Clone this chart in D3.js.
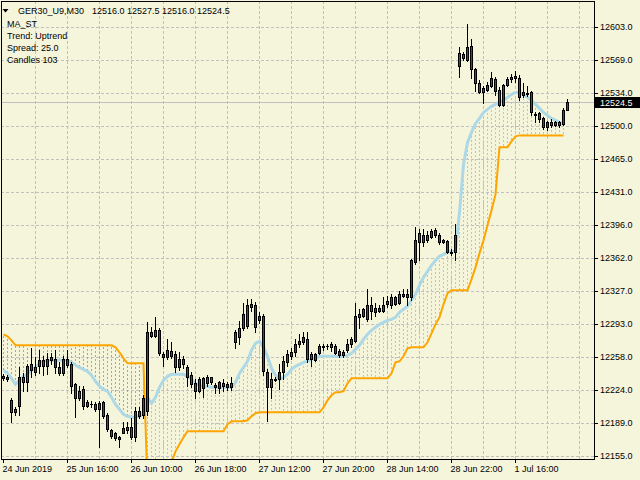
<!DOCTYPE html>
<html><head><meta charset="utf-8">
<script src="https://cdn.jsdelivr.net/npm/d3@7"></script>
<style>
body{margin:0;background:#f5f5dc;}
svg{display:block;}
text{font-family:"Liberation Sans",Arial,sans-serif;font-size:9px;fill:#000;}
</style>
</head><body>
<svg id="c" width="640" height="480"></svg>
<script>
// ---------- DATA ----------
const symbolName = "GER30_U9,M30";
const indicatorLines = ["MA_ST", "Trend: Uptrend", "Spread: 25.0", "Candles 103"];
const priceTicks = [12155,12189,12224,12258,12293,12327,12362,12396,12431,12465,12500,12534,12569,12603];
const timeLabels = ["24 Jun 2019","25 Jun 16:00","26 Jun 10:00","26 Jun 18:00","27 Jun 12:00","27 Jun 20:00","28 Jun 14:00","28 Jun 22:00","1 Jul 16:00"];
const timeLabelBars = [0,16,32,48,64,80,96,112,128];

const opens = [12239,12235,12214,12201,12207,12238,12232,12251,12243,12249,
12255,12249,12255,12256,12248,12242,12256,12251,12230,12216,
12225,12207,12209,12209,12210,12211,12198,12182,12179,12174.5,
12179.5,12185,12174.5,12175,12202,12198,12202,12285,12280,12287,
12261,12258,12265,12262,12248,12256,12248,12240,12231,12223,
12236,12231,12237,12229,12226,12231,12227,12227,12274,12279,
12289,12291,12311,12313,12297,12301,12243,12227,12234,12235,
12243,12253,12259,12264,12272,12274,12277,12262,12255,12263,
12268.5,12270,12272,12270,12265,12260,12266,12272,12275,12300,
12301,12298,12313,12305,12310,12306,12314,12313,12321,12315,
12322,12324,12321,12358,12379,12386,12381,12384,12391,12386,
12378,12380,12368.5,12368,12562,12575,12569,12583,12559,12545,
12535,12537,12541,12549,12537,12522,12542,12549,12550,12550,
12535,12534,12535,12512,12513,12507.5,12503.5,12501,12503.5,12501,
12502,12516];
const highs = [12241,12240,12216,12206,12248,12242,12251,12268,12258,12266,
12259,12263,12263,12266,12253,12259,12266,12253,12231,12228,
12228,12213,12212,12211,12212,12212,12200,12183,12180,12175.5,
12190,12191,12195,12206,12206,12219,12295,12290,12300,12289,
12264,12277,12274,12265,12264,12259,12250,12243,12235,12237,
12237,12240,12238,12231,12233,12235,12232,12237,12287,12296,
12315,12319,12319,12316,12305,12303,12246,12242,12237,12251,
12259,12266,12268,12277,12282,12284,12285,12264,12263,12272,
12272,12272,12274,12272,12267,12266,12277,12279,12315,12308,
12310,12329,12321,12315,12313,12321,12322,12324,12322,12327,
12329,12329,12361,12394,12392,12392,12390,12392,12393,12388,
12382,12381,12371,12397,12582,12577,12606,12590,12560,12548,
12541,12546,12556,12551,12540,12543,12551,12553.5,12557,12553,
12545,12541,12536,12514,12514,12508.5,12504.5,12506.5,12504.5,12505,
12518,12527.5];
const lows = [12234,12233,12190,12198,12198,12223,12223,12237,12240,12242,
12240,12241,12251,12242,12240,12240,12248,12221,12196,12214,
12204,12206,12206,12202,12164,12195,12181,12174,12172,12164,
12178.5,12179.5,12172.5,12171,12195,12195,12198,12279,12279,12260,
12249,12256,12257,12243,12245,12247,12228,12227,12216,12222,
12217,12228,12230,12221,12221,12223,12224,12224,12268,12272,
12287,12289,12306,12284,12294,12240,12192,12216,12233,12225,
12235,12249,12256,12259,12269,12272,12253,12249,12254,12262,
12266,12267,12265,12261,12258,12258,12264,12269,12274,12289,
12300,12296,12298,12301,12305,12305,12311,12310,12313,12314,
12321,12313,12318,12355,12360,12374,12379,12383,12384,12376,
12377,12367,12365,12360,12551,12569,12567,12550,12536,12534,
12524,12536,12540,12532,12520,12521,12541,12546,12546,12527,
12529.5,12530.5,12511.5,12504,12504,12496,12495,12499,12500,12499,
12501,12516];
const closes = [12236,12238,12201,12204,12238,12232,12249,12245,12248,12255,
12249,12256,12258,12248,12242,12256,12250,12228,12216,12223,
12207,12211,12209.5,12204,12204,12197,12183,12176,12173.5,12172.5,
12184,12182,12185,12202,12196.5,12216,12285,12280,12287,12263,
12258,12266,12259,12248,12256,12251,12238,12230,12223,12235,
12226,12237,12232,12227,12232,12228,12230,12231,12285,12289,
12303,12313,12313.5,12290,12301,12244,12227,12235,12235,12243,
12254,12261,12264,12272,12275,12279,12256,12256,12262,12269.5,
12270,12270,12268.5,12263,12260,12264,12272,12277,12301,12303,
12308,12313,12306,12310,12306,12313,12316.5,12321,12314,12324,
12324,12321,12360,12381,12388,12378,12386,12390,12386,12378,
12381,12368,12367.5,12386,12576,12571,12582,12559,12544,12535,
12539,12542,12550,12536,12522,12542,12549,12551,12551.5,12529.5,
12532.5,12533,12514,12511,12506.5,12499,12499,12503.5,12501,12503.5,
12516,12524.5];
const maValues = [12244.5,12241.3,12236.1,12229.9,12234.0,12238.2,12240.3,12244.5,12247.6,12251.8,
12253.9,12254.9,12254.9,12254.9,12254.9,12254.9,12254.9,12252.8,12249.7,12247.6,
12245.5,12243.4,12239.3,12233.0,12227.8,12224.6,12222.6,12216.3,12209.0,12203.8,
12198.5,12196.5,12195.4,12195.4,12196.5,12199.6,12216.3,12210.0,12216.3,12226.7,
12234.0,12238.2,12240.3,12240.3,12240.3,12240.3,12238.2,12235.1,12230.9,12228.8,
12227.8,12227.8,12226.7,12226.7,12226.7,12226.7,12226.7,12226.7,12231.9,12241.3,
12247.6,12253.9,12265.4,12272.7,12274.8,12268.5,12259.1,12246.6,12239.3,12235.1,
12237.2,12240.3,12245.5,12248.7,12250.7,12252.8,12253.9,12256.0,12257.0,12259.1,
12259.1,12259.1,12259.1,12259.1,12259.1,12259.1,12260.1,12262.2,12266.4,12270.6,
12276.8,12282.1,12286.2,12289.4,12292.5,12294.6,12296.7,12297.7,12299.8,12305.0,
12308.2,12311.3,12317.6,12323.8,12333.2,12341.6,12347.8,12354.1,12359.3,12363.5,
12365.6,12367.7,12368.7,12369.8,12409.4,12459.5,12482.5,12492.9,12502.3,12507.6,
12513.8,12517.0,12520.1,12522.2,12524.3,12526.4,12529.5,12532.6,12534.7,12534.7,
12532.6,12529.5,12526.4,12522.2,12518.0,12513.8,12510.7,12507.6,12505.5,12503.4,
12501.3,null];
const stopValues = [12282.1,12280.0,12275.8,12270.6,12270.6,12270.6,12270.6,12270.6,12270.6,12270.6,
12270.6,12270.6,12270.6,12270.6,12270.6,12270.6,12270.6,12270.6,12270.6,12270.6,
12270.6,12270.6,12270.6,12270.6,12270.6,12270.6,12270.6,12270.6,12268.5,12263.3,
12257.0,12251.8,12251.8,12251.8,12251.8,12251.8,12125.0,12125.0,12125.0,12125.0,
12125.0,12125.0,12148.4,12159.9,12167.2,12174.5,12180.8,12180.8,12180.8,12180.8,
12180.8,12180.8,12180.8,12180.8,12180.8,12180.8,12188.1,12191.2,12191.2,12191.2,
12191.2,12192.3,12196.5,12199.6,12200.6,12200.6,12200.6,12200.6,12200.6,12200.6,
12200.6,12200.6,12200.6,12200.6,12200.6,12200.6,12200.6,12200.6,12200.6,12200.6,
12205.8,12213.2,12218.4,12221.5,12221.5,12222.6,12230.9,12236.1,12236.1,12236.1,
12236.1,12236.1,12236.1,12236.1,12236.1,12236.1,12236.1,12241.3,12252.8,12253.9,
12259.1,12267.4,12268.5,12268.5,12268.5,12268.5,12273.7,12283.1,12292.5,12299.8,
12313.4,12324.9,12328.0,12328.0,12328.0,12328.0,12328.0,12339.5,12352.0,12366.6,
12380.2,12395.9,12411.5,12428.2,12477.3,12477.3,12477.3,12483.6,12488.8,12489.8,
12489.8,12489.8,12489.8,12489.8,12489.8,12489.8,12489.8,12489.8,12489.8,12489.8,
12489.8,null];

// ---------- LAYOUT ----------
const W = 640, H = 480;
const plotL = 1, plotR = 594, plotT = 1, plotB = 459;
const svg = d3.select("#c");
svg.append("rect").attr("width", W).attr("height", H).attr("fill", "#f5f5dc");

const n = opens.length;
const x = d3.scaleLinear().domain([0, n - 1]).range([3.5, 3.5 + 4 * (n - 1)]);
const y = d3.scaleLinear().domain([12155, 12603]).range([456, 27]);
const yRound = y.copy().interpolate(d3.interpolateRound);
const yr = v => Math.round(y(v));

svg.append("clipPath").attr("id", "clip").append("rect")
  .attr("x", plotL + 1).attr("y", plotT + 1)
  .attr("width", plotR - plotL - 1).attr("height", plotB - plotT - 1);

// grid
const grid = svg.append("g").attr("stroke", "#c0c0c0").attr("stroke-dasharray", "3,2")
  .attr("shape-rendering", "crispEdges");
priceTicks.forEach(v => grid.append("line")
  .attr("x1", plotL).attr("x2", plotR)
  .attr("y1", yRound(v) + 0.5).attr("y2", yRound(v) + 0.5));
d3.range(8, 145, 8).forEach(b => grid.append("line")
  .attr("x1", x(b)).attr("x2", x(b)).attr("y1", plotT).attr("y2", plotB));

const plot = svg.append("g").attr("clip-path", "url(#clip)");

// dotted fill between MA and stop line
const fill = plot.append("g").attr("stroke-width", 1).attr("stroke-dasharray", "2,2")
  .attr("shape-rendering", "crispEdges");
maValues.forEach((m, i) => {
  const s = stopValues[i];
  if (m == null || s == null) return;
  fill.append("line").attr("x1", x(i)).attr("x2", x(i))
    .attr("y1", y(m)).attr("y2", y(s))
    .attr("stroke", s > m ? "#e88a8a" : "#98e098");
});

// bid price line
const bid = closes[n - 1];
plot.append("line").attr("x1", plotL).attr("x2", plotR)
  .attr("y1", yr(bid) + 0.5).attr("y2", yr(bid) + 0.5)
  .attr("stroke", "#c0c0c0").attr("shape-rendering", "crispEdges");

// MA line
plot.append("path").datum(maValues)
  .attr("d", d3.line().defined(d => d != null).x((d, i) => x(i)).y(d => y(d)))
  .attr("fill", "none").attr("stroke", "#add8e6").attr("stroke-width", 3);

// stop line
plot.append("path").datum(stopValues)
  .attr("d", d3.line().defined(d => d != null).x((d, i) => x(i)).y(d => y(d)))
  .attr("fill", "none").attr("stroke", "#ffa500").attr("stroke-width", 2);

// candles
const cg = plot.append("g").attr("shape-rendering", "crispEdges");
opens.forEach((o, i) => {
  const cx = x(i), c = closes[i];
  cg.append("line").attr("x1", cx).attr("x2", cx)
    .attr("y1", yr(highs[i])).attr("y2", yr(lows[i]) + 1).attr("stroke", "#000");
  const t = yr(Math.max(o, c)), b = yr(Math.min(o, c));
  if (b - t < 1) {
    cg.append("line").attr("x1", cx - 1.5).attr("x2", cx + 1.5)
      .attr("y1", t + 0.5).attr("y2", t + 0.5).attr("stroke", "#000");
  } else {
    cg.append("rect").attr("x", cx - 1).attr("y", t + 0.5)
      .attr("width", 2).attr("height", b - t)
      .attr("fill", c >= o ? "#008000" : "#ff0000").attr("stroke", "#000");
  }
});

// frame
svg.append("rect").attr("x", plotL + 0.5).attr("y", plotT + 0.5)
  .attr("width", plotR - plotL).attr("height", plotB - plotT)
  .attr("fill", "none").attr("stroke", "#000").attr("shape-rendering", "crispEdges");

// price axis
const yAxis = svg.append("g").attr("transform", `translate(${plotR},0)`)
  .call(d3.axisRight(yRound).tickValues(priceTicks).tickSize(4).tickPadding(2)
    .tickFormat(d => d.toFixed(1)));
yAxis.select(".domain").remove();
yAxis.selectAll("text").style("font-family", "Liberation Sans, Arial, sans-serif").style("font-size", "9px");
yAxis.selectAll(".tick line").attr("shape-rendering", "crispEdges");

// time axis
const xAxis = svg.append("g").attr("transform", `translate(0,${plotB})`)
  .call(d3.axisBottom(x).tickValues(timeLabelBars).tickSize(4).offset(0)
    .tickFormat((d, i) => timeLabels[i]));
xAxis.select(".domain").remove();
xAxis.selectAll("text").attr("text-anchor", "start").attr("x", -1)
  .style("font-family", "Liberation Sans, Arial, sans-serif").style("font-size", "9px");
xAxis.selectAll(".tick line").attr("shape-rendering", "crispEdges");

// current price label
svg.append("rect").attr("x", 595).attr("y", yr(bid) - 5).attr("width", 45).attr("height", 11).attr("fill", "#000");
svg.append("text").attr("x", 600).attr("y", yr(bid) + 0.5).attr("dy", "0.35em")
  .style("fill", "#fff").text(bid.toFixed(1));

// header
svg.append("path").attr("d", "M2.5,9 L8.5,9 L5.5,12.5 Z").attr("fill", "#000");
svg.append("text").attr("x", 18).attr("y", 14).text(symbolName);
svg.append("text").attr("x", 92).attr("y", 14)
  .text([opens[n - 1], highs[n - 1], lows[n - 1], closes[n - 1]].map(v => v.toFixed(1)).join(" "));
indicatorLines.forEach((t, k) => svg.append("text").attr("x", 7).attr("y", 26.5 + 12 * k).text(t));
</script>
</body></html>
